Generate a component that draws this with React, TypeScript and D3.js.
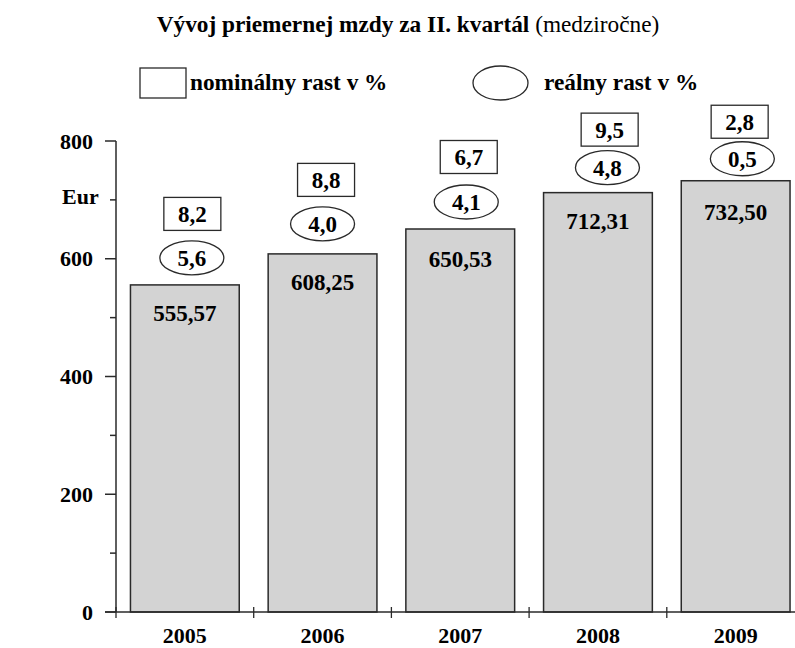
import React from "react";
import * as d3 from "d3";

const years = ["2005", "2006", "2007", "2008", "2009"];
const wages = [555.57, 608.25, 650.53, 712.31, 732.5];
const wageLabels = ["555,57", "608,25", "650,53", "712,31", "732,50"];
const nominalGrowth = ["8,2", "8,8", "6,7", "9,5", "2,8"];
const realGrowth = ["5,6", "4,0", "4,1", "4,8", "0,5"];
const yTicks = [0, 200, 400, 600, 800];
const yMinorTicks = [100, 300, 500, 700];

// hand-placed label nudges (layout only)
const ellipseDx = [7, 0, 6, 9.5, 6.7];
const ellipseDy = [27, 30, 27, 25, 22];
const boxDx = [7.5, 3.5, 8.5, 11.7, 4];
const boxDy = [71, 74, 72, 63, 59];
const valueDy = [28, 28.5, 30, 28.7, 31];

const W = 795;
const H = 648;
const FONT = "'Liberation Serif', 'Times New Roman', serif";
const STROKE = "#2a2a2a";

export default function App() {
  const y = d3.scaleLinear().domain([0, 800]).range([612, 141]);
  const x = d3.scaleBand<string>().domain(years).range([116, 804.5]).padding(0);
  const bw = x.bandwidth();
  const barW = bw * 0.79;
  const boundaries = [...years.map((d) => x(d) as number), 116 + bw * years.length];

  return (
    <svg
      width={W}
      height={H}
      style={{ position: "absolute", left: 0, top: 0, background: "#fff" }}
      fontFamily={FONT}
    >
      {/* Title */}
      <text x={408} y={32} textAnchor="middle" fontSize={23.3} fill="#000">
        <tspan fontWeight="bold">Vývoj priemernej mzdy za II. kvartál</tspan>
        <tspan> (medziročne)</tspan>
      </text>

      {/* Legend */}
      <rect x={140} y={68} width={46} height={30} fill="#fff" stroke={STROKE} strokeWidth={1.3} />
      <text x={190} y={90} fontSize={23.3} fontWeight="bold" fill="#000">
        nominálny rast v %
      </text>
      <ellipse cx={500.5} cy={83} rx={27.5} ry={17} fill="#fff" stroke={STROKE} strokeWidth={1.3} />
      <text x={544} y={90} fontSize={23.3} fontWeight="bold" fill="#000">
        reálny rast v %
      </text>

      {/* Y axis */}
      <line x1={116} x2={116} y1={y(800)} y2={y(0)} stroke={STROKE} strokeWidth={1.5} />
      {yTicks.map((t) => (
        <g key={t}>
          <line x1={105} x2={116} y1={y(t)} y2={y(t)} stroke={STROKE} strokeWidth={1.5} />
          <text
            x={93}
            y={y(t) + 7.5}
            textAnchor="end"
            fontSize={22}
            fontWeight="bold"
            fill="#000"
          >
            {t}
          </text>
        </g>
      ))}
      {yMinorTicks.map((t) => (
        <line key={t} x1={110} x2={116} y1={y(t)} y2={y(t)} stroke={STROKE} strokeWidth={1.5} />
      ))}
      <text x={62} y={204} fontSize={22} fontWeight="bold" fill="#000">
        Eur
      </text>

      {/* Bars */}
      {years.map((yr, i) => {
        const cx = (x(yr) as number) + bw / 2;
        const top = y(wages[i]);
        return (
          <g key={yr}>
            <rect
              x={cx - barW / 2}
              y={top}
              width={barW}
              height={y(0) - top}
              fill="#d3d3d3"
              stroke={STROKE}
              strokeWidth={1.5}
            />
            <text
              x={cx}
              y={top + valueDy[i] + 8}
              textAnchor="middle"
              fontSize={23}
              fontWeight="bold"
              fill="#000"
            >
              {wageLabels[i]}
            </text>
            <ellipse
              cx={cx + ellipseDx[i]}
              cy={top - ellipseDy[i]}
              rx={32}
              ry={17}
              fill="#fff"
              stroke={STROKE}
              strokeWidth={1.3}
            />
            <text
              x={cx + ellipseDx[i]}
              y={top - ellipseDy[i] + 8}
              textAnchor="middle"
              fontSize={23}
              fontWeight="bold"
              fill="#000"
            >
              {realGrowth[i]}
            </text>
            <rect
              x={cx + boxDx[i] - 28.5}
              y={top - boxDy[i] - 16.5}
              width={57}
              height={33}
              fill="#fff"
              stroke={STROKE}
              strokeWidth={1.3}
            />
            <text
              x={cx + boxDx[i]}
              y={top - boxDy[i] + 8}
              textAnchor="middle"
              fontSize={23}
              fontWeight="bold"
              fill="#000"
            >
              {nominalGrowth[i]}
            </text>
            <text
              x={cx}
              y={643}
              textAnchor="middle"
              fontSize={22}
              fontWeight="bold"
              fill="#000"
            >
              {yr}
            </text>
          </g>
        );
      })}

      {/* X axis */}
      <line x1={105} x2={W} y1={y(0)} y2={y(0)} stroke={STROKE} strokeWidth={1.5} />
      {boundaries.map((b, i) => (
        <line key={i} x1={b} x2={b} y1={607} y2={618} stroke={STROKE} strokeWidth={1.3} />
      ))}
    </svg>
  );
}
